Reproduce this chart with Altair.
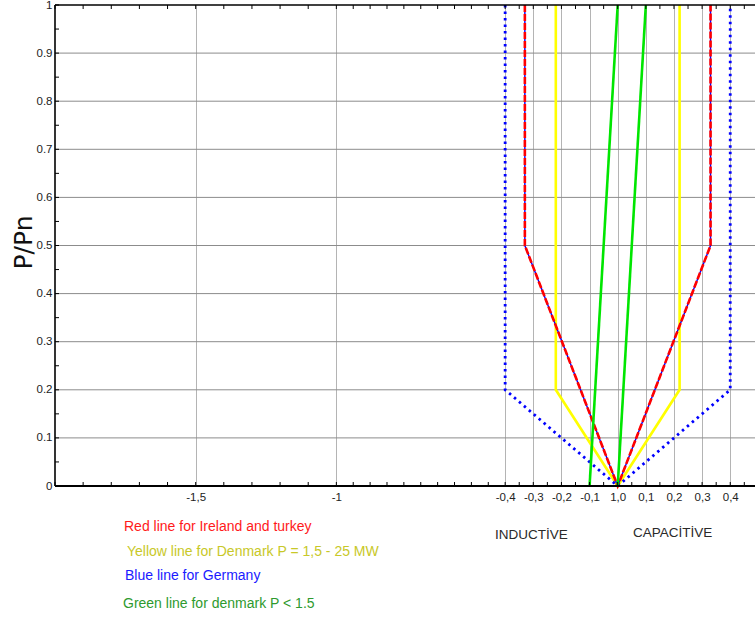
import altair as alt
import pandas as pd

# Reactive-power capability envelopes (Q/Pn on x, P/Pn on y)
germany_q = [-0.4, -0.4, 0.0, 0.4, 0.4]
germany_p = [1.0, 0.2, 0.0, 0.2, 1.0]

ireland_turkey_q = [-0.33, -0.33, 0.0, 0.33, 0.33]
ireland_turkey_p = [1.0, 0.5, 0.0, 0.5, 1.0]

denmark_large_q = [-0.22, -0.22, 0.0, 0.22, 0.22]
denmark_large_p = [1.0, 0.2, 0.0, 0.2, 1.0]

denmark_small_left_q = [-0.1, 0.0]
denmark_small_left_p = [0.0, 1.0]
denmark_small_right_q = [0.0, 0.1]
denmark_small_right_p = [0.0, 1.0]

# Axis ticks and labels
x_major = [-1.5, -1.0, -0.4, -0.3, -0.2, -0.1, 0.0, 0.1, 0.2, 0.3, 0.4]
x_labels = ["-1,5", "-1", "-0,4", "-0,3", "-0,2", "-0,1", "1,0", "0,1", "0,2", "0,3", "0,4"]
y_major = [0, 0.1, 0.2, 0.3, 0.4, 0.5, 0.6, 0.7, 0.8, 0.9, 1]
y_grid = [0.1, 0.2, 0.3, 0.4, 0.5, 0.6, 0.7, 0.8, 0.9]
x_minor = [-2.0, -1.9, -1.8, -1.7, -1.6, -1.5, -1.4, -1.3, -1.2, -1.1, -1.0,
           -0.94, -0.88, -0.82, -0.76, -0.70, -0.64, -0.58, -0.52, -0.46,
           -0.40, -0.35, -0.30, -0.25, -0.20, -0.15, -0.10, -0.05, 0.0,
           0.05, 0.10, 0.15, 0.20, 0.25, 0.30, 0.35, 0.40, 0.45]
y_minor = [0, 0.05, 0.1, 0.15, 0.2, 0.25, 0.3, 0.35, 0.4, 0.45, 0.5,
           0.55, 0.6, 0.65, 0.7, 0.75, 0.8, 0.85, 0.9, 0.95, 1]

W, H = 700, 481
X_DOMAIN = [-2.0, 0.488]
FONT = "Liberation Sans, Arial, sans-serif"


def series(q, p):
    return pd.DataFrame({"q": q, "p": p, "i": list(range(len(q)))})


# Labels are looked up by the tick value in hundredths (plain integer keys)
label_map = "{" + ", ".join(f"'{round(v * 100)}': '{t}'" for v, t in zip(x_major, x_labels)) + "}"
x_scale = alt.Scale(domain=X_DOMAIN, nice=False, zero=False)
y_scale = alt.Scale(domain=[0, 1], nice=False)

x_enc = alt.X(
    "q:Q", scale=x_scale,
    axis=alt.Axis(
        values=x_major, title=None, domain=False, ticks=False,
        labelExpr=f"{label_map}['' + round(datum.value * 100)]",
        labelFont=FONT, labelFontSize=11.5, labelColor="#222222",
        labelPadding=5, labelFlush=False, labelOverlap=False,
        grid=True, gridColor="#b4b4b4", gridWidth=1,
    ),
)
y_enc = alt.Y(
    "p:Q", scale=y_scale,
    axis=alt.Axis(
        values=y_major, title="P/Pn", domain=False, ticks=False,
        labelExpr="datum.value == 0 ? '0' : datum.value == 1 ? '1' : format(datum.value, '.1f')",
        labelFont=FONT, labelFontSize=11.5, labelColor="#222222",
        labelPadding=3, labelFlush=False, labelOverlap=False,
        grid=False,
        titleFont="DejaVu Sans", titleFontSize=25, titleFontWeight="normal",
        titleColor="#111111", titleAngle=270, titleX=-32, titleY=237,
        titleAlign="center", titleBaseline="middle",
    ),
)

# Horizontal grid lines (darker than the vertical ones)
hgrid = alt.Chart(pd.DataFrame({"p": y_grid})).mark_rule(color="#8c8c8c", strokeWidth=1).encode(
    y=alt.Y("p:Q", scale=y_scale), x=alt.value(0), x2=alt.value(W)
)

frame = alt.Chart(series(germany_q, germany_p)).mark_point(opacity=0).encode(x=x_enc, y=y_enc)

yellow = alt.Chart(series(denmark_large_q, denmark_large_p)).mark_line(
    color="#ffff00", strokeWidth=2.6
).encode(x=alt.X("q:Q", scale=x_scale), y=alt.Y("p:Q", scale=y_scale), order="i:O")

red_under = alt.Chart(series(ireland_turkey_q, ireland_turkey_p)).mark_line(
    color="#0000ff", strokeWidth=1.4
).encode(x=alt.X("q:Q", scale=x_scale), y=alt.Y("p:Q", scale=y_scale), order="i:O")

red = alt.Chart(series(ireland_turkey_q, ireland_turkey_p)).mark_line(
    color="#ff0000", strokeWidth=2.6, strokeDash=[7, 2]
).encode(x=alt.X("q:Q", scale=x_scale), y=alt.Y("p:Q", scale=y_scale), order="i:O")

blue = alt.Chart(series(germany_q, germany_p)).mark_line(
    color="#0000ff", strokeWidth=2.8, strokeDash=[2.5, 4], strokeCap="butt"
).encode(x=alt.X("q:Q", scale=x_scale), y=alt.Y("p:Q", scale=y_scale), order="i:O")

green_left = alt.Chart(series(denmark_small_left_q, denmark_small_left_p)).mark_line(
    color="#00e600", strokeWidth=2.6
).encode(x=alt.X("q:Q", scale=x_scale), y=alt.Y("p:Q", scale=y_scale), order="i:O")

green_right = alt.Chart(series(denmark_small_right_q, denmark_small_right_p)).mark_line(
    color="#00e600", strokeWidth=2.6
).encode(x=alt.X("q:Q", scale=x_scale), y=alt.Y("p:Q", scale=y_scale), order="i:O")

# Box edges and inward-pointing ticks
bottom_edge = alt.Chart(pd.DataFrame({"q": [0]})).mark_rule(color="#000000", strokeWidth=2).encode(
    x=alt.value(0), x2=alt.value(W), y=alt.value(H)
)
top_edge = alt.Chart(pd.DataFrame({"q": [0]})).mark_rule(color="#000000", strokeWidth=1.6).encode(
    x=alt.value(0), x2=alt.value(W), y=alt.value(0)
)
left_edge = alt.Chart(pd.DataFrame({"q": [0]})).mark_rule(color="#000000", strokeWidth=1.6).encode(
    x=alt.value(0), y=alt.value(0), y2=alt.value(H)
)
xt = pd.DataFrame({"q": x_minor})
bottom_ticks = alt.Chart(xt).mark_rule(color="#000000", strokeWidth=1).encode(
    x=alt.X("q:Q", scale=x_scale), y=alt.value(H), y2=alt.value(H - 4)
)
top_ticks = alt.Chart(xt).mark_rule(color="#000000", strokeWidth=1).encode(
    x=alt.X("q:Q", scale=x_scale), y=alt.value(0), y2=alt.value(4)
)
left_ticks = alt.Chart(pd.DataFrame({"p": y_minor})).mark_rule(color="#000000", strokeWidth=1).encode(
    y=alt.Y("p:Q", scale=y_scale), x=alt.value(0), x2=alt.value(4)
)


def note(text, color, x, y, size=14):
    return alt.Chart(pd.DataFrame({"t": [text]})).mark_text(
        align="left", baseline="alphabetic", font=FONT, fontSize=size, color=color
    ).encode(text="t:N", x=alt.value(x), y=alt.value(y))


notes = [
    note("Red line for Ireland and turkey", "#ff1a1a", 69, 526),
    note("Yellow line for Denmark P = 1,5 - 25 MW", "#c8c828", 72, 551),
    note("Blue line for Germany", "#1a1aff", 70, 575),
    note("Green line for denmark P < 1.5", "#2e9a2e", 68, 603),
    note("INDUCTİVE", "#2a2a2a", 440, 534, 13.5),
    note("CAPACİTİVE", "#2a2a2a", 578, 532, 13.5),
]

chart = alt.layer(
    frame, hgrid, yellow, red_under, red, blue, green_left, green_right,
    bottom_ticks, top_ticks, left_ticks, bottom_edge, top_edge, left_edge,
    *notes,
).properties(
    width=W, height=H,
    autosize=alt.AutoSizeParams(type="none"),
    padding={"left": 55, "top": 5, "right": 0, "bottom": 134},
    background="#ffffff",
).configure_view(stroke=None)

chart.save("out.html", embed_options={"renderer": "svg", "actions": False})
